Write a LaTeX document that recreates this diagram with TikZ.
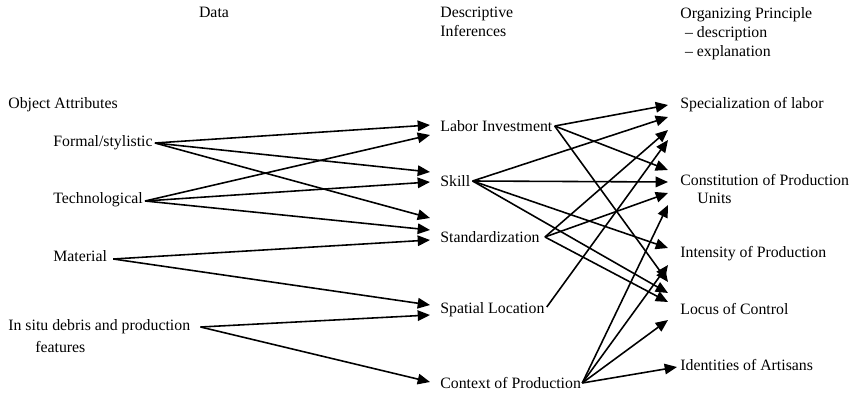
\documentclass[tikz,border=0pt]{standalone}
\usepackage{fontspec}
\setmainfont{Liberation Serif}
\usetikzlibrary{arrows.meta,calc}

\begin{document}
\begin{tikzpicture}[x=0.02cm,y=-0.02cm,font=\fontsize{9}{10.8}\selectfont,
 lbl/.style={anchor=west,inner sep=0pt},
 hd/.style={anchor=north west,inner sep=0pt,align=left},
 arr/.style={line width=0.9pt,-{Triangle[length=7pt,width=6pt]}}]
\useasboundingbox (0,0) rectangle (852,395);
% column heads
\node[anchor=north,inner sep=0pt] (hdata) at (214,7) {Data};
\node[hd] (hinf) at (440,7) {Descriptive\\Inferences};
\node[hd] (hprin) at (680,7) {Organizing Principle\\\hspace*{0.3em}-- description\\\hspace*{0.3em}-- explanation};
% data
\node[lbl] (obj) at (8,105) {Object Attributes};
\node[lbl] (form) at (53,143) {Formal/stylistic};
\node[lbl] (tech) at (53,200) {Technological};
\node[lbl] (mat) at (53,256) {Material};
\node[lbl] (situ) at (8,327) {In situ debris and production};
\node[lbl] (situb) at (35,347) {features};
% inferences
\node[lbl] (labor) at (440,126) {Labor Investment};
\node[lbl] (skill) at (440,181) {Skill};
\node[lbl] (std) at (440,237) {Standardization};
\node[lbl] (spat) at (440,310) {Spatial Location};
\node[lbl] (ctx) at (440,383) {Context of Production};
% principles
\node[lbl] (spec) at (680,105) {Specialization of labor};
\node[lbl] (cons) at (680,180) {Constitution of Production};
\node[lbl] (consb) at (697,198) {Units};
\node[lbl] (int) at (680,254) {Intensity of Production};
\node[lbl] (loc) at (680,309) {Locus of Control};
\node[lbl] (ident) at (680,365) {Identities of Artisans};
% data -> inferences
\coordinate (f0) at ($(form.east)+(2,0)$);
\coordinate (t0) at ($(tech.east)+(2,1)$);
\coordinate (m0) at ($(mat.east)+(6,3)$);
\coordinate (s0) at ($(situ.east)+(10,0)$);
\draw[arr] (f0) -- ($(labor.west)+(-10,-1)$);
\draw[arr] (t0) -- ($(labor.west)+(-10,9)$);
\draw[arr] (f0) -- ($(skill.west)+(-10,-9)$);
\draw[arr] (t0) -- ($(skill.west)+(-10,1)$);
\draw[arr] (f0) -- ($(std.west)+(-10,-19)$);
\draw[arr] (t0) -- ($(std.west)+(-10,-7)$);
\draw[arr] (m0) -- ($(std.west)+(-10,3)$);
\draw[arr] (m0) -- ($(spat.west)+(-10,-5)$);
\draw[arr] (s0) -- ($(spat.west)+(-10,5)$);
\draw[arr] (s0) -- ($(ctx.west)+(-10,-1)$);
% inferences -> principles
\coordinate (l0) at ($(labor.east)+(2,0)$);
\coordinate (k0) at ($(skill.east)+(2,0)$);
\coordinate (d0) at ($(std.east)+(5,0)$);
\coordinate (p0) at ($(spat.east)+(2,-3)$);
\coordinate (c0) at ($(ctx.east)+(1,0)$);
\draw[arr] (l0) -- ($(spec.west)+(-12,0)$);
\draw[arr] (k0) -- ($(spec.west)+(-12,12)$);
\draw[arr] (d0) -- ($(spec.west)+(-12,25)$);
\draw[arr] (p0) -- ($(spec.west)+(-12,35)$);
\draw[arr] (l0) -- ($(cons.west)+(-12,-10)$);
\draw[arr] (k0) -- ($(cons.west)+(-12,2)$);
\draw[arr] (d0) -- ($(cons.west)+(-12,13)$);
\draw[arr] (c0) -- ($(cons.west)+(-12,25)$);
\draw[arr] (k0) -- ($(int.west)+(-12,-6)$);
\draw[arr] (c0) -- ($(int.west)+(-12,11)$);
\draw[arr] (l0) -- ($(loc.west)+(-12,-27)$);
\draw[arr] (k0) -- ($(loc.west)+(-12,-16)$);
\draw[arr] (d0) -- ($(loc.west)+(-12,-7)$);
\draw[arr] (c0) -- ($(loc.west)+(-12,11)$);
\draw[arr] (c0) -- ($(ident.west)+(-3,2)$);
\end{tikzpicture}
\end{document}
